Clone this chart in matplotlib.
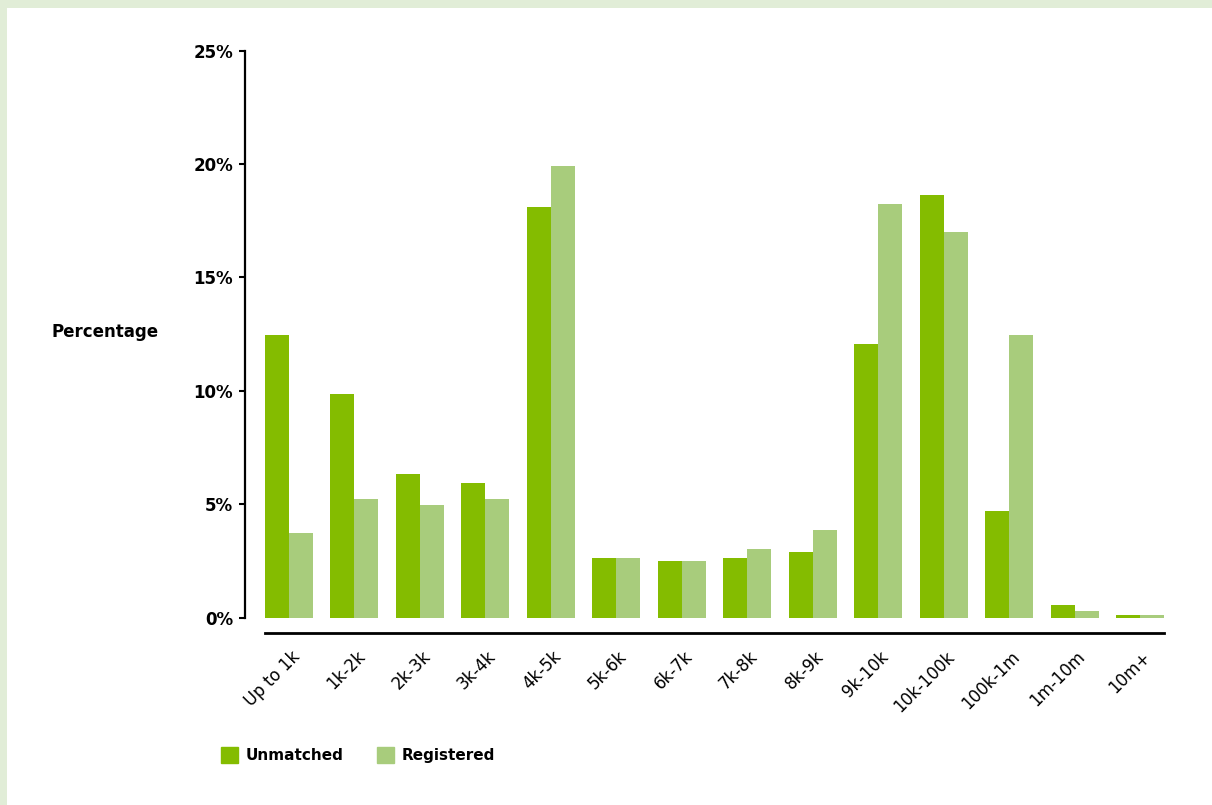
import matplotlib
matplotlib.use("Agg")
import matplotlib.pyplot as plt
import matplotlib.patches as mpatches
from matplotlib.transforms import ScaledTranslation

categories = ["Up to 1k", "1k-2k", "2k-3k", "3k-4k", "4k-5k", "5k-6k", "6k-7k",
              "7k-8k", "8k-9k", "9k-10k", "10k-100k", "100k-1m", "1m-10m", "10m+"]
unmatched = [12.45, 9.85, 6.35, 5.95, 18.1, 2.63, 2.5, 2.63, 2.9, 12.05, 18.65, 4.7, 0.56, 0.12]
registered = [3.73, 5.23, 4.98, 5.23, 19.9, 2.63, 2.5, 3.03, 3.87, 18.25, 17.0, 12.45, 0.29, 0.12]
yticks = [0, 5, 10, 15, 20, 25]
ytick_labels = ["0%", "5%", "10%", "15%", "20%", "25%"]

C_UNM = "#84bc00"
C_REG = "#a8cc7c"
BG = "#e1edd7"

plt.rcParams['font.family'] = ['DejaVu Sans']

fig = plt.figure(figsize=(12.12, 8.05), dpi=100)
fig.patch.set_facecolor(BG)
# white panel
fig.add_artist(mpatches.Rectangle((7 / 1212, 0), 1 - 7 / 1212, 1 - 8 / 805,
                                  transform=fig.transFigure, facecolor="white",
                                  edgecolor="none", zorder=0))

ax = fig.add_axes([245 / 1212, 187.3 / 805, 919 / 1212, 567 / 805])
ax.set_facecolor("none")

w = 0.366
x = list(range(len(categories)))
ax.bar([i - w / 2 for i in x], unmatched, width=w, color=C_UNM, label="Unmatched")
ax.bar([i + w / 2 for i in x], registered, width=w, color=C_REG, label="Registered")

ax.set_xlim(-0.672, len(categories) - 1 + w)
ax.set_ylim(0, 25)

for s in ["top", "right"]:
    ax.spines[s].set_visible(False)
ax.spines["left"].set_linewidth(1.6)
ax.spines["left"].set_bounds(0, 25)
ax.spines["bottom"].set_position(("outward", 11))
ax.spines["bottom"].set_bounds(-w, len(categories) - 1 + w)
ax.spines["bottom"].set_linewidth(2.0)

ax.set_yticks(yticks)
ax.set_yticklabels(ytick_labels, fontsize=12, fontweight="bold")
ax.tick_params(axis="y", direction="out", length=4.5, width=1.5, pad=4)

ax.set_xticks(x)
ax.set_xticklabels(categories, fontsize=12, rotation=45, ha="right", va="center",
                   rotation_mode="anchor")
ax.tick_params(axis="x", length=0, pad=15)
offset = ScaledTranslation(8 / 100, 0, fig.dpi_scale_trans)
for lab in ax.get_xticklabels():
    lab.set_transform(lab.get_transform() + offset)

fig.text(105.5 / 1212, 1 - 332 / 805, "Percentage", fontsize=12, fontweight="bold",
         ha="center", va="center")

handles = [mpatches.Patch(color=C_UNM), mpatches.Patch(color=C_REG)]
leg = fig.legend(handles, ["Unmatched", "Registered"], loc="center left",
                 bbox_to_anchor=(221 / 1212, 1 - 755 / 805), ncol=2, frameon=False,
                 prop={"size": 11, "weight": "bold"}, handlelength=1.1, handleheight=1.3,
                 handletextpad=0.5, columnspacing=2.2, borderpad=0, borderaxespad=0)

fig.savefig("out.png", dpi=100, facecolor=fig.get_facecolor())
